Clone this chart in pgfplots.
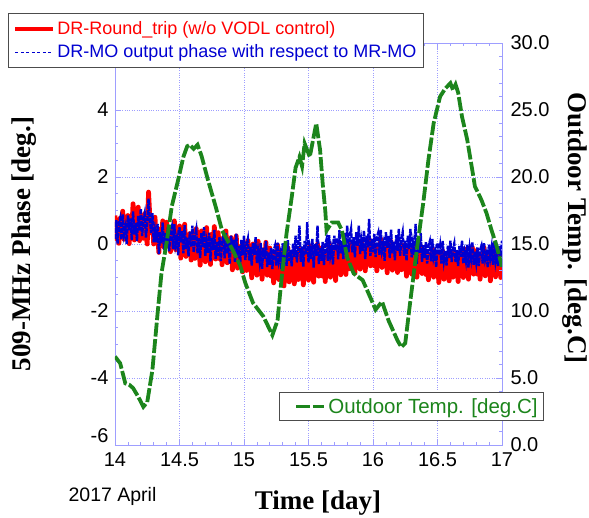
\documentclass[border=0pt]{standalone}
\usepackage{pgfplots}
\pgfplotsset{compat=1.18}
\usepackage{fontspec}
\setmainfont{Liberation Sans}
\newfontfamily\timesfont{Liberation Serif}
\definecolor{axiscol}{rgb}{0.62,0.62,1.0}
\definecolor{dblue}{rgb}{0,0,0.82}
\definecolor{tgreen}{rgb}{0.11,0.52,0.11}
\begin{document}
\begin{tikzpicture}
\begin{axis}[
  at={(0,0)}, anchor=south west,
  width=387pt, height=402pt, scale only axis,
  clip mode=individual,
  xmin=14, xmax=17, ymin=-6, ymax=6,
  xtick={14,14.5,15,15.5,16,16.5,17},
  ytick={-4,-2,0,2,4},
  extra y ticks={-6},
  extra y tick style={yticklabel style={yshift=9pt}},
  minor x tick num=4, minor y tick num=3,
  ytick pos=left,
  grid=major, grid style={dotted, axiscol, line width=0.6pt},
  axis line style={axiscol, line width=0.8pt},
  tick style={axiscol, line width=0.6pt},
  tick align=inside, major tick length=6pt, minor tick length=3pt,
  /pgf/number format/assume math mode=true,
  ticklabel style={font=\fontsize{20}{22}\selectfont},
  xticklabel style={yshift=-4pt},
  yticklabel style={xshift=-3pt},
  every axis x label/.style={at={(axis description cs:0.5245,-0.1617)}, anchor=base},
  every axis y label/.style={at={(axis description cs:-0.235,0.5)}, rotate=90, anchor=center},
  label style={font=\timesfont\bfseries\fontsize{27}{30}\selectfont},
  xlabel={Time [day]},
  ylabel={509-MHz Phase [deg.]},
  legend style={at={(axis description cs:-0.2765,1.0746)}, anchor=north west,
    draw=black!70, line width=0.8pt, fill=white,
    font=\fontsize{18}{20}\selectfont, inner xsep=5pt, inner ysep=6pt,
    row sep=5pt},
  legend cell align=left,
]
\addplot[red, line width=4.8pt, line join=round,
  legend image code/.code={\draw[red, line width=4pt] (0pt,0pt) -- (38pt,0pt);}] coordinates {
(14.00,0.85)(14.01,0.16)(14.02,0.61)(14.03,0.02)(14.04,0.77)(14.05,0.38)(14.06,0.98)(14.07,0.14)(14.08,0.54)(14.09,0.25)
(14.10,0.85)(14.11,0.01)(14.12,0.71)(14.13,0.37)(14.14,1.20)(14.15,0.12)(14.16,0.63)(14.17,0.24)(14.18,1.10)(14.19,0.10)
(14.20,0.70)(14.21,0.84)(14.22,0.17)(14.23,0.91)(14.24,0.29)(14.25,0.00)(14.26,1.55)(14.27,0.80)(14.28,0.33)(14.29,0.67)
(14.30,0.00)(14.31,0.80)(14.32,0.05)(14.33,0.35)(14.34,-0.25)(14.35,0.45)(14.36,0.02)(14.37,0.69)(14.38,-0.09)(14.39,0.43)
(14.40,0.65)(14.41,-0.06)(14.42,0.38)(14.43,-0.23)(14.44,0.51)(14.45,0.10)(14.46,0.69)(14.47,-0.17)(14.48,0.22)(14.49,-0.09)
(14.50,0.54)(14.51,-0.42)(14.52,0.34)(14.53,-0.06)(14.54,0.59)(14.55,-0.37)(14.56,0.17)(14.57,-0.29)(14.58,0.31)(14.59,-0.48)
(14.60,0.18)(14.61,0.36)(14.62,-0.43)(14.63,0.46)(14.64,-0.26)(14.65,-0.03)(14.66,-0.63)(14.67,0.39)(14.68,-0.16)(14.69,0.25)
(14.70,-0.53)(14.71,0.49)(14.72,-0.36)(14.73,0.06)(14.74,-0.61)(14.75,0.29)(14.76,-0.26)(14.77,0.52)(14.78,-0.45)(14.79,0.15)
(14.80,0.34)(14.81,-0.44)(14.82,0.04)(14.83,-0.62)(14.84,0.19)(14.85,-0.26)(14.86,0.39)(14.87,-0.56)(14.88,-0.13)(14.89,-0.47)
(14.90,0.19)(14.91,-0.77)(14.92,-0.01)(14.93,-0.41)(14.94,0.24)(14.95,-0.72)(14.96,-0.18)(14.97,-0.64)(14.98,-0.05)(14.99,-0.83)
(15.00,-0.17)(15.01,0.00)(15.02,-0.79)(15.03,0.10)(15.04,-0.63)(15.05,-0.40)(15.06,-1.01)(15.07,0.00)(15.08,-0.55)(15.09,-0.14)
(15.10,-0.93)(15.11,0.08)(15.12,-0.78)(15.13,-0.38)(15.14,-1.05)(15.15,-0.17)(15.16,-0.72)(15.17,0.05)(15.18,-0.93)(15.19,-0.35)
(15.20,-0.12)(15.21,-0.96)(15.22,-0.43)(15.23,-1.16)(15.24,-0.26)(15.25,-0.75)(15.26,-0.03)(15.27,-1.06)(15.28,-0.58)(15.29,-0.95)
(15.30,-0.23)(15.31,-1.25)(15.32,-0.41)(15.33,-0.83)(15.34,-0.11)(15.35,-1.13)(15.36,-0.53)(15.37,-1.01)(15.38,-0.35)(15.39,-1.19)
(15.40,-0.47)(15.41,-0.29)(15.42,-1.06)(15.43,-0.16)(15.44,-0.87)(15.45,-0.62)(15.46,-1.22)(15.47,-0.19)(15.48,-0.73)(15.49,-0.30)
(15.50,-1.08)(15.51,-0.06)(15.52,-0.90)(15.53,-0.48)(15.54,-1.14)(15.55,-0.24)(15.56,-0.78)(15.57,0.00)(15.58,-0.96)(15.59,-0.36)
(15.60,-0.12)(15.61,-0.96)(15.62,-0.41)(15.63,-1.12)(15.64,-0.22)(15.65,-0.70)(15.66,0.03)(15.67,-0.99)(15.68,-0.51)(15.69,-0.85)
(15.70,-0.17)(15.71,-1.09)(15.72,-0.30)(15.73,-0.67)(15.74,0.01)(15.75,-0.92)(15.76,-0.35)(15.77,-0.78)(15.78,-0.16)(15.79,-0.91)
(15.80,-0.25)(15.81,-0.10)(15.82,-0.74)(15.83,0.02)(15.84,-0.58)(15.85,-0.38)(15.86,-0.87)(15.87,-0.01)(15.88,-0.46)(15.89,-0.11)
(15.90,-0.75)(15.91,0.10)(15.92,-0.60)(15.93,-0.25)(15.94,-0.80)(15.95,-0.05)(15.96,-0.50)(15.97,0.15)(15.98,-0.65)(15.99,-0.15)
(16.00,0.05)(16.01,-0.65)(16.02,-0.20)(16.03,-0.80)(16.04,-0.05)(16.05,-0.45)(16.06,0.15)(16.07,-0.70)(16.08,-0.30)(16.09,-0.60)
(16.10,0.00)(16.11,-0.86)(16.12,-0.16)(16.13,-0.52)(16.14,0.08)(16.15,-0.78)(16.16,-0.28)(16.17,-0.69)(16.18,-0.14)(16.19,-0.85)
(16.20,-0.25)(16.21,-0.11)(16.22,-0.77)(16.23,-0.03)(16.24,-0.64)(16.25,-0.45)(16.26,-0.96)(16.27,-0.12)(16.28,-0.58)(16.29,-0.24)
(16.30,-0.90)(16.31,-0.06)(16.32,-0.77)(16.33,-0.43)(16.34,-0.99)(16.35,-0.25)(16.36,-0.71)(16.37,-0.07)(16.38,-0.88)(16.39,-0.39)
(16.40,-0.20)(16.41,-0.91)(16.42,-0.46)(16.43,-1.07)(16.44,-0.32)(16.45,-0.72)(16.46,-0.13)(16.47,-0.99)(16.48,-0.59)(16.49,-0.90)
(16.50,-0.30)(16.51,-1.15)(16.52,-0.45)(16.53,-0.80)(16.54,-0.20)(16.55,-1.05)(16.56,-0.55)(16.57,-0.95)(16.58,-0.40)(16.59,-1.10)
(16.60,-0.50)(16.61,-0.35)(16.62,-0.99)(16.63,-0.24)(16.64,-0.83)(16.65,-0.63)(16.66,-1.12)(16.67,-0.27)(16.68,-0.71)(16.69,-0.36)
(16.70,-1.00)(16.71,-0.15)(16.72,-0.85)(16.73,-0.50)(16.74,-1.05)(16.75,-0.30)(16.76,-0.75)(16.77,-0.10)(16.78,-0.90)(16.79,-0.40)
(16.80,-0.20)(16.81,-0.90)(16.82,-0.45)(16.83,-1.05)(16.84,-0.30)(16.85,-0.70)(16.86,-0.10)(16.87,-0.95)(16.88,-0.55)(16.89,-0.85)
(16.90,-0.25)(16.91,-1.10)(16.92,-0.40)(16.93,-0.74)(16.94,-0.13)(16.95,-0.98)(16.96,-0.48)(16.97,-0.87)(16.98,-0.31)(16.99,-1.00)(17.00,-0.40)
};
\addlegendentry{\textcolor{red}{DR-Round\_trip (w/o VODL control)}}
\addplot[dblue, line width=2.4pt, dash pattern=on 5pt off 1pt,
  legend image code/.code={\draw[dblue, line width=0.9pt, dash pattern=on 3pt off 2.5pt] (0pt,0pt) -- (38pt,0pt);}] coordinates {
(14.00,0.15)(14.01,0.71)(14.02,0.01)(14.03,0.62)(14.04,0.77)(14.05,0.13)(14.06,0.88)(14.07,0.29)(14.08,0.49)(14.09,0.00)
(14.10,0.85)(14.11,0.41)(14.12,0.76)(14.13,0.12)(14.14,0.97)(14.15,0.28)(14.16,0.63)(14.17,0.09)(14.18,0.84)(14.19,0.40)
(14.20,1.05)(14.21,0.24)(14.22,0.72)(14.23,0.91)(14.24,0.19)(14.25,0.63)(14.26,1.35)(14.27,0.75)(14.28,0.33)(14.29,0.92)
(14.30,0.05)(14.31,0.40)(14.32,0.05)(14.33,0.60)(14.34,-0.30)(14.35,0.35)(14.36,0.02)(14.37,0.64)(14.38,-0.19)(14.39,0.33)
(14.40,-0.05)(14.41,0.49)(14.42,-0.22)(14.43,0.37)(14.44,0.51)(14.45,-0.15)(14.46,0.59)(14.47,-0.02)(14.48,0.17)(14.49,-0.34)
(14.50,0.50)(14.51,0.04)(14.52,0.38)(14.53,-0.28)(14.54,0.56)(14.55,-0.15)(14.56,0.19)(14.57,-0.37)(14.58,0.37)(14.59,-0.09)
(14.60,0.55)(14.61,-0.25)(14.62,0.24)(14.63,0.44)(14.64,-0.28)(14.65,0.17)(14.66,-0.42)(14.67,0.32)(14.68,-0.09)(14.69,0.50)
(14.70,-0.35)(14.71,0.04)(14.72,-0.26)(14.73,0.34)(14.74,-0.52)(14.75,0.18)(14.76,-0.18)(14.77,0.42)(14.78,-0.44)(14.79,0.06)
(14.80,-0.35)(14.81,0.20)(14.82,-0.51)(14.83,0.09)(14.84,0.23)(14.85,-0.43)(14.86,0.32)(14.87,-0.29)(14.88,-0.09)(14.89,-0.60)
(14.90,0.25)(14.91,-0.21)(14.92,0.13)(14.93,-0.53)(14.94,0.31)(14.95,-0.40)(14.96,-0.06)(14.97,-0.62)(14.98,0.12)(14.99,-0.34)
(15.00,0.25)(15.01,-0.48)(15.02,-0.03)(15.03,0.15)(15.04,-0.49)(15.05,-0.09)(15.06,-0.64)(15.07,0.03)(15.08,-0.33)(15.09,0.20)
(15.10,-0.57)(15.11,-0.21)(15.12,-0.50)(15.13,0.03)(15.14,-0.74)(15.15,-0.12)(15.16,-0.44)(15.17,0.09)(15.18,-0.69)(15.19,-0.25)
(15.20,-0.62)(15.21,-0.12)(15.22,-0.75)(15.23,-0.20)(15.24,-0.06)(15.25,-0.64)(15.26,0.04)(15.27,-0.50)(15.28,-0.31)(15.29,-0.75)
(15.30,0.02)(15.31,-0.39)(15.32,-0.07)(15.33,-0.65)(15.34,0.12)(15.35,-0.50)(15.36,-0.18)(15.37,-0.67)(15.38,0.01)(15.39,-0.39)
(15.40,0.25)(15.41,-0.55)(15.42,-0.04)(15.43,0.55)(15.44,-0.53)(15.45,-0.07)(15.46,-0.67)(15.47,0.09)(15.48,-0.31)(15.49,0.65)
(15.50,-0.55)(15.51,-0.15)(15.52,-0.45)(15.53,0.15)(15.54,-0.70)(15.55,0.00)(15.56,-0.35)(15.57,0.55)(15.58,-0.60)(15.59,-0.10)
(15.60,-0.50)(15.61,0.06)(15.62,-0.63)(15.63,-0.02)(15.64,0.14)(15.65,-0.50)(15.66,0.26)(15.67,-0.33)(15.68,-0.12)(15.69,-0.61)
(15.70,0.25)(15.71,-0.19)(15.72,0.18)(15.73,-0.46)(15.74,0.41)(15.75,-0.28)(15.76,0.09)(15.77,-0.45)(15.78,0.32)(15.79,-0.12)
(15.80,0.55)(15.81,-0.25)(15.82,0.25)(15.83,0.45)(15.84,-0.25)(15.85,0.20)(15.86,-0.40)(15.87,0.35)(15.88,-0.05)(15.89,0.55)
(15.90,-0.30)(15.91,0.10)(15.92,-0.20)(15.93,0.40)(15.94,-0.45)(15.95,0.25)(15.96,-0.10)(15.97,0.75)(15.98,-0.35)(15.99,0.15)
(16.00,-0.25)(16.01,0.30)(16.02,-0.39)(16.03,0.20)(16.04,0.33)(16.05,-0.32)(16.06,0.42)(16.07,-0.19)(16.08,0.00)(16.09,-0.50)
(16.10,0.35)(16.11,-0.11)(16.12,0.24)(16.13,-0.42)(16.14,0.43)(16.15,-0.28)(16.16,0.07)(16.17,-0.49)(16.18,0.26)(16.19,-0.20)
(16.20,0.45)(16.21,-0.35)(16.22,0.15)(16.23,0.35)(16.24,-0.35)(16.25,0.10)(16.26,-0.50)(16.27,0.25)(16.28,-0.15)(16.29,0.45)
(16.30,-0.40)(16.31,0.00)(16.32,-0.32)(16.33,0.60)(16.34,-0.59)(16.35,0.10)(16.36,-0.26)(16.37,0.33)(16.38,-0.53)(16.39,-0.04)
(16.40,-0.42)(16.41,0.06)(16.42,-0.58)(16.43,-0.05)(16.44,0.08)(16.45,-0.52)(16.46,0.15)(16.47,-0.40)(16.48,-0.23)(16.49,-0.69)
(16.50,0.03)(16.51,-0.33)(16.52,-0.06)(16.53,-0.58)(16.54,0.09)(16.55,-0.48)(16.56,-0.20)(16.57,-0.64)(16.58,-0.05)(16.59,-0.42)
(16.60,0.10)(16.61,-0.54)(16.62,-0.14)(16.63,0.02)(16.64,-0.54)(16.65,-0.18)(16.66,-0.66)(16.67,-0.06)(16.68,-0.38)(16.69,0.10)
(16.70,-0.58)(16.71,-0.26)(16.72,-0.50)(16.73,-0.02)(16.74,-0.70)(16.75,-0.14)(16.76,-0.42)(16.77,0.06)(16.78,-0.62)(16.79,-0.22)
(16.80,-0.54)(16.81,-0.10)(16.82,-0.66)(16.83,-0.18)(16.84,-0.06)(16.85,-0.58)(16.86,0.02)(16.87,-0.46)(16.88,-0.30)(16.89,-0.70)
(16.90,-0.02)(16.91,-0.38)(16.92,-0.10)(16.93,-0.62)(16.94,0.06)(16.95,-0.50)(16.96,-0.22)(16.97,-0.66)(16.98,-0.06)(16.99,-0.42)(17.00,0.10)
};
\addlegendentry{\textcolor{dblue}{DR-MO output phase with respect to MR-MO}}
\node[anchor=base west, font=\fontsize{19.5}{22}\selectfont] at (axis description cs:-0.129,-0.14) {2017 April};
\end{axis}
\begin{axis}[
  at={(0,0)}, anchor=south west,
  width=387pt, height=402pt, scale only axis,
  xmin=14, xmax=17, ymin=0, ymax=30,
  axis x line=none, axis y line*=right,
  ytick={0,5,10,15,20,25,30},
  minor y tick num=4,
  axis line style={axiscol, line width=0.8pt},
  tick style={axiscol, line width=0.6pt},
  tick align=inside, major tick length=6pt, minor tick length=3pt,
  /pgf/number format/assume math mode=true,
  yticklabel style={font=\fontsize{20}{22}\selectfont, xshift=5pt, /pgf/number format/.cd, fixed, fixed zerofill, precision=1},
  every axis y label/.style={at={(axis description cs:1.1886,0.54)}, rotate=-90, anchor=center},
  label style={font=\timesfont\bfseries\fontsize{27}{30}\selectfont},
  ylabel={Outdoor Temp. [deg.C]},
  legend style={at={(axis description cs:1.1085,0.1318)}, anchor=north east,
    draw=black!70, line width=0.8pt, fill=white,
    font=\fontsize{20.5}{22}\selectfont, inner xsep=4pt, inner ysep=4pt},
  legend image code/.code={\path (-11pt,0pt); \draw[#1] (0pt,0pt) -- (28pt,0pt);},
]
\addplot[tgreen, line width=3.8pt, dash pattern=on 14pt off 2.5pt] coordinates {
(14.00,6.6)(14.04,6.1)(14.08,4.6)(14.11,4.5)(14.14,4.25)(14.18,3.6)(14.22,2.85)(14.25,3.2)
(14.29,5.6)(14.33,9.8)(14.36,12.8)(14.40,15.1)(14.44,17.8)(14.49,19.8)(14.53,21.5)(14.56,22.3)
(14.58,22.4)(14.61,22.1)(14.64,22.4)(14.67,21.6)(14.72,19.8)(14.78,17.8)(14.83,16.0)(14.91,14.6)
(14.97,13.4)(15.01,12.1)(15.07,10.6)(15.15,9.6)(15.22,8.2)(15.26,9.3)(15.29,12.3)(15.33,15.8)
(15.37,18.5)(15.40,20.7)(15.43,21.5)(15.45,20.8)(15.47,22.5)(15.51,21.5)(15.54,23.0)(15.56,24.0)
(15.59,22.0)(15.61,19.5)(15.63,17.5)(15.64,16.0)(15.68,16.6)(15.73,16.6)(15.76,16.0)(15.80,14.0)
(15.85,12.8)(15.92,12.3)(15.98,11.0)(16.02,10.1)(16.07,10.7)(16.12,9.3)(16.19,7.8)(16.22,7.3)
(16.25,7.6)(16.29,10.8)(16.34,14.6)(16.39,18.1)(16.43,21.3)(16.47,24.0)(16.52,26.0)(16.56,26.6)
(16.60,27.0)(16.62,26.5)(16.64,26.9)(16.66,26.3)(16.69,24.5)(16.73,22.8)(16.77,20.5)(16.79,19.3)
(16.84,18.3)(16.88,17.3)(16.92,16.0)(16.96,14.8)(17.00,13.3)
};
\addlegendentry{\textcolor{tgreen}{Outdoor Temp. [deg.C]}}
\end{axis}
\pgfresetboundingbox
\path (-115pt,-73pt) rectangle (474pt,445pt);
\end{tikzpicture}
\end{document}
